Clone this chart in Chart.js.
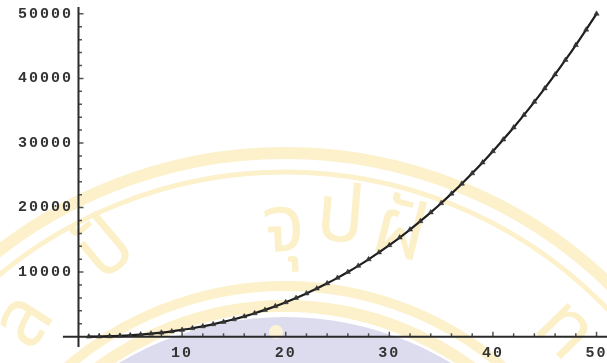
<!DOCTYPE html>
<html>
<head>
<meta charset="utf-8">
<script src="https://cdn.jsdelivr.net/npm/chart.js@4.4.1/dist/chart.umd.min.js"></script>
<style>
  html, body { margin: 0; padding: 0; background: #fff; }
  #c { display: block; }
</style>
</head>
<body>
<canvas id="c" width="607" height="363"></canvas>
<script>
// values
const xValues = [1, 2, 3, 4, 5, 6, 7, 8, 9, 10,
  11, 12, 13, 14, 15, 16, 17, 18, 19, 20,
  21, 22, 23, 24, 25, 26, 27, 28, 29, 30,
  31, 32, 33, 34, 35, 36, 37, 38, 39, 40,
  41, 42, 43, 44, 45, 46, 47, 48, 49, 50];
const yValues = [10, 30, 70, 130, 215, 325, 460, 625, 820, 1050,
  1300, 1600, 1930, 2290, 2690, 3140, 3620, 4150, 4720, 5330,
  5990, 6700, 7450, 8260, 9110, 10010, 10970, 11980, 13050, 14170,
  15350, 16590, 17890, 19250, 20670, 22150, 23690, 25300, 26980, 28720,
  30530, 32400, 34350, 36370, 38460, 40620, 42860, 45170, 47560, 50010];

const xTickValues = [10, 20, 30, 40, 50];
const xTickLabels = ['10', '20', '30', '40', '50'];
const yTickValues = [10000, 20000, 30000, 40000, 50000];
const yTickLabels = ['10000', '20000', '30000', '40000', '50000'];

// minor ticks every 2 on x, every 2000 on y
const xMinorTicks = [];
for (let v = 2; v <= 50; v += 2) if (v % 10) xMinorTicks.push(v);
const yMinorTicks = [];
for (let v = 2000; v <= 50000; v += 2000) if (v % 10000) yMinorTicks.push(v);

const labelFont = { family: 'Liberation Mono', size: 15, weight: 'bold' };

// pale seal in the background of the scanned page
const watermark = {
  id: 'watermark',
  beforeDraw(chart) {
    const ctx = chart.ctx;
    ctx.save();
    ctx.fillStyle = '#fff';
    ctx.fillRect(0, 0, chart.width, chart.height);
    const cx = 285, cy = 620;
    ctx.strokeStyle = '#fcf1cb';
    ctx.lineWidth = 12;
    ctx.beginPath(); ctx.arc(cx, cy, 467, 0, Math.PI * 2); ctx.stroke();
    ctx.lineWidth = 5;
    ctx.beginPath(); ctx.arc(cx, cy, 448, 0, Math.PI * 2); ctx.stroke();
    ctx.lineWidth = 10;
    ctx.beginPath(); ctx.arc(cx, cy, 334, 0, Math.PI * 2); ctx.stroke();
    ctx.lineWidth = 12;
    ctx.beginPath(); ctx.arc(cx, cy, 314, 0, Math.PI * 2); ctx.stroke();
    ctx.fillStyle = '#dcdcee';
    ctx.beginPath(); ctx.arc(285, 640, 323, 0, Math.PI * 2); ctx.fill();
    ctx.fillStyle = '#fcf3d4';
    ctx.beginPath(); ctx.arc(276, 332, 7, 0, Math.PI * 2); ctx.fill();
    // seal lettering
    ctx.fillStyle = '#fcf0c8';
    ctx.font = '80px "Noto Sans Thai", "Noto Sans", sans-serif';
    ctx.textAlign = 'center';
    ctx.textBaseline = 'middle';
    const glyphs = [
      ['ล', 30, 325, -1.0],
      ['ปั', 110, 255, -0.7],
      ['จุ', 284, 235, -0.05],
      ['ป', 340, 225, 0.08],
      ['ฝั', 398, 240, 0.25],
      ['ท', 560, 335, 0.8]
    ];
    for (const [t, gx, gy, r] of glyphs) {
      ctx.save();
      ctx.translate(gx, gy);
      ctx.rotate(r);
      ctx.fillText(t, 0, 0);
      ctx.restore();
    }
    ctx.restore();
    ctx.letterSpacing = '2px';
  }
};

// Mathematica style axes crossing at the origin, ticks pointing inward
const axes = {
  id: 'axes',
  beforeDatasetsDraw(chart) {
    const { ctx, chartArea: a, scales: { x, y } } = chart;
    const x0 = x.getPixelForValue(0);
    const y0 = y.getPixelForValue(0);
    ctx.save();
    ctx.strokeStyle = '#555';
    ctx.lineWidth = 1.5;
    ctx.beginPath();
    for (const v of xTickValues) {
      const px = x.getPixelForValue(v);
      ctx.moveTo(px, y0); ctx.lineTo(px, y0 - 5);
    }
    for (const v of xMinorTicks) {
      const px = x.getPixelForValue(v);
      ctx.moveTo(px, y0); ctx.lineTo(px, y0 - 3.5);
    }
    for (const v of yTickValues) {
      const py = y.getPixelForValue(v);
      ctx.moveTo(x0, py); ctx.lineTo(x0 + 5, py);
    }
    for (const v of yMinorTicks) {
      const py = y.getPixelForValue(v);
      ctx.moveTo(x0, py); ctx.lineTo(x0 + 3.5, py);
    }
    ctx.stroke();
    ctx.strokeStyle = '#2a2a2a';
    ctx.lineWidth = 2;
    ctx.beginPath();
    ctx.moveTo(x.getPixelForValue(-1.5), y0); ctx.lineTo(chart.width, y0);
    ctx.moveTo(x0, a.top - 3); ctx.lineTo(x0, y.getPixelForValue(-1600));
    ctx.stroke();
    ctx.restore();
  }
};

new Chart(document.getElementById('c'), {
  type: 'line',
  data: {
    datasets: [{
      data: xValues.map((v, i) => ({ x: v, y: yValues[i] })),
      borderColor: '#1e1e1e',
      borderWidth: 2.2,
      tension: 0.3,
      pointStyle: 'triangle',
      pointRadius: 3,
      pointBackgroundColor: '#333',
      pointBorderColor: '#333',
      pointBorderWidth: 0.5
    }]
  },
  options: {
    responsive: false,
    devicePixelRatio: 1,
    animation: false,
    clip: false,
    layout: { padding: { top: 10, right: 1, left: 0, bottom: 0 } },
    plugins: { legend: { display: false }, tooltip: { enabled: false } },
    scales: {
      x: {
        type: 'linear',
        min: -0.24,
        max: 50.575,
        grid: { display: false, drawTicks: false },
        border: { display: false },
        afterBuildTicks: s => { s.ticks = xTickValues.map(v => ({ value: v })); },
        afterFit: s => { s.height = 16; s.paddingLeft = 0; s.paddingRight = 0; },
        ticks: {
          autoSkip: false, maxRotation: 0, padding: -3,
          color: '#333', font: labelFont,
          callback: (v, i) => xTickLabels[i]
        }
      },
      y: {
        min: -1600,
        max: 50600,
        grid: { display: false, drawTicks: false },
        border: { display: false },
        afterBuildTicks: s => { s.ticks = yTickValues.map(v => ({ value: v })); },
        afterFit: s => { s.width = 76; s.paddingTop = 0; s.paddingBottom = 0; },
        ticks: {
          autoSkip: false, padding: 3,
          color: '#333', font: labelFont,
          callback: (v, i) => yTickLabels[i]
        }
      }
    }
  },
  plugins: [watermark, axes]
});
</script>
</body>
</html>
